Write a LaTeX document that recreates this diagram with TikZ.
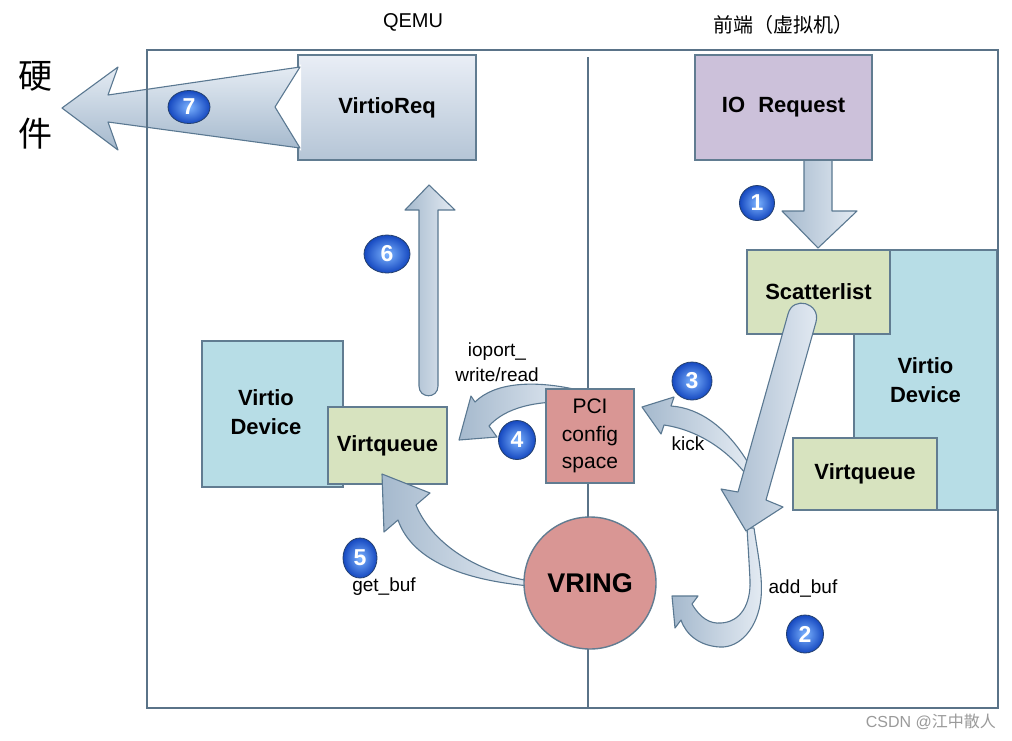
\documentclass[tikz,border=0pt]{standalone}
\usepackage{fontspec}
\setmainfont{Liberation Sans}
\newfontfamily\cjk{Noto Sans CJK SC}
\usetikzlibrary{shapes.geometric}
\definecolor{framec}{HTML}{5A7388}
\definecolor{edgec}{HTML}{617C91}
\definecolor{devblue}{HTML}{B7DDE6}
\definecolor{qgreen}{HTML}{D7E3BF}
\definecolor{ioviolet}{HTML}{CCC1DA}
\definecolor{pcired}{HTML}{D99694}
\definecolor{arrdark}{HTML}{A5B9CD}
\definecolor{arrlight}{HTML}{E4EBF3}
\definecolor{arrline}{HTML}{5A7891}
\definecolor{reqtop}{HTML}{E9EEF6}
\definecolor{reqbot}{HTML}{B5C5D6}
\definecolor{balllight}{HTML}{7DB4FF}
\definecolor{balldark}{HTML}{1548C0}
\definecolor{ballline}{HTML}{24406E}
\definecolor{wmgrey}{HTML}{9A9A9A}
\begin{document}
\begin{tikzpicture}[x=1pt,y=-1pt,
  box/.style={draw=edgec, line width=1.4pt, inner sep=0pt, align=center,
    font=\bfseries\fontsize{22}{29}\selectfont},
  arrbase/.style={draw=arrline, line width=1.1pt, line join=round},
  arrh/.style={arrbase, left color=arrdark, right color=arrlight},
  arrv/.style={arrbase, top color=arrlight, bottom color=arrdark},
  ball/.style={ellipse, draw=ballline, line width=0.8pt, inner color=balllight,
    outer color=balldark, text=white, font=\bfseries\fontsize{23}{23}\selectfont,
    inner sep=0pt},
  lbl/.style={font=\fontsize{19}{25}\selectfont, align=center, inner sep=0pt}]

\fill[white] (0,0) rectangle (1012,740);
\useasboundingbox (0,0) rectangle (1012,740);

% divider
\coordinate (divtop) at (588,57);
\coordinate (divbot) at (588,708);
\draw[framec, line width=2pt] (divtop) -- (divbot);

% headers
\node[font=\fontsize{20}{20}\selectfont] (qemu) at (413,22) {QEMU};
\node[font=\cjk\fontsize{20}{20}\selectfont] (front) at (783,25) {前端（虚拟机）};
\node[font=\cjk\fontsize{34}{34}\selectfont] (hw1) at (35,76) {硬};
\node[font=\cjk\fontsize{34}{34}\selectfont] (hw2) at (35,134) {件};

% left device
\node[box, fill=devblue, minimum width=141pt, minimum height=146pt] (ldev) at (272.5,414) {};
\node[font=\bfseries\fontsize{22}{29}\selectfont, align=center] (ldevtxt) at (266,412) {Virtio\\Device};
\node[box, fill=qgreen, minimum width=119pt, minimum height=77pt] (lq) at (387.5,445.5) {Virtqueue};

% right device
\node[box, fill=devblue, minimum width=143pt, minimum height=260pt] (rdev) at (925.5,380) {Virtio\\Device};
\node[box, fill=qgreen, minimum width=143pt, minimum height=84pt] (scat) at (818.5,292) {Scatterlist};
\node[box, fill=qgreen, minimum width=144pt, minimum height=72pt] (rq) at (865,474) {Virtqueue};

% arrow 1
\path[arrh] (804,150) -- (804,211) -- (782,211) -- (818,248) -- (857,211) -- (832,211) -- (832,150) -- cycle;

% top boxes
\node[box, fill=ioviolet, minimum width=177pt, minimum height=105pt] (ioreq) at (783.5,107.5) {IO\hspace{0.6em}Request};
\node[box, top color=reqtop, bottom color=reqbot, minimum width=178pt, minimum height=105pt] (vreq) at (387,107.5) {VirtioReq};

% arrow 6
\path[arrh] (419,386) -- (419,210) -- (405,210) -- (429,185) -- (455,210) -- (438,210) -- (438,386) .. controls (438,399) and (419,399) .. (419,386) -- cycle;

% arrow 7
\fill[white] (274,107) -- (301,64) -- (301,151) -- cycle;
\path[arrv] (62,108) -- (118,67) -- (108,95) -- (300,67) -- (275,107) -- (300,148) -- (108,122) -- (118,150) -- cycle;

% arrow 4 and PCI
\path[arrh] (578,390) .. controls (535,380) and (495,382) .. (475,402) -- (471,396) -- (459,440) -- (497,437) -- (489,426) .. controls (505,408) and (535,400) .. (578,402) -- cycle;
\node[box, fill=pcired, minimum width=88pt, minimum height=94pt,
  font=\fontsize{21}{27.5}\selectfont] (pci) at (590,436) {PCI\\config\\space};

% arrow 3 (kick)
\path[arrh] (750,466) .. controls (728,428) and (700,408) .. (671,406) -- (674,397) -- (642,407) -- (661,434) -- (664,425) .. controls (698,430) and (728,450) .. (748,477) -- cycle;

% arrow 2 (add_buf)
\path[arrh] (747,528) .. controls (748,545) and (749,560) .. (750,580) .. controls (751,605) and (740,622) .. (721,623) .. controls (710,624) and (700,618) .. (692,604) -- (698,596) -- (672,596) -- (675,628) -- (681,620) .. controls (686,635) and (700,646) .. (720,647) .. controls (740,648) and (758,628) .. (761,598) .. controls (763,578) and (758,555) .. (754,528) -- cycle;

% big arrow from scatterlist
\path[arrh] (788,314) .. controls (793,295) and (821,303) .. (816,322) -- (766,500) -- (783,507) -- (746,531) -- (721,489) -- (738,492) -- cycle;

% arrow 5 (get_buf) and VRING
\path[arrh] (530,581) .. controls (465,570) and (428,535) .. (416,505) -- (430,493) -- (382,474) -- (384,532) -- (398,520) .. controls (412,560) and (462,580) .. (530,586) -- cycle;
\node[circle, draw=edgec, line width=1.4pt, fill=pcired, minimum size=132pt, inner sep=0pt,
  font=\bfseries\fontsize{27}{27}\selectfont] (vring) at (590,583) {VRING};

% labels
\node[lbl] (ioport) at (497,362) {ioport\_\\write/read};
\node[lbl] (kick) at (688,444) {kick};
\node[lbl] (getbuf) at (384,587) {get\_buf};
\node[lbl] (addbuf) at (803,588) {add\_buf};

% balls
\node[ball, minimum width=35pt, minimum height=35pt] (b1) at (757,203) {1};
\node[ball, minimum width=37pt, minimum height=38pt] (b2) at (805,634) {2};
\node[ball, minimum width=40pt, minimum height=38pt] (b3) at (692,381) {3};
\node[ball, minimum width=37pt, minimum height=39pt] (b4) at (517,440) {4};
\node[ball, minimum width=34pt, minimum height=40pt] (b5) at (360,558) {5};
\node[ball, minimum width=46pt, minimum height=38pt] (b6) at (387,254) {6};
\node[ball, minimum width=42pt, minimum height=33pt] (b7) at (189,107) {7};

% frame
\coordinate (frA) at (147,50);
\coordinate (frB) at (998,708);
\draw[framec, line width=2.5pt] (frA) rectangle (frB);

% watermark
\node[text=wmgrey, font=\fontsize{16}{16}\selectfont, anchor=east, inner sep=0pt] (wm) at (996,722) {CSDN @{\cjk 江中散人}};
\end{tikzpicture}
\end{document}
